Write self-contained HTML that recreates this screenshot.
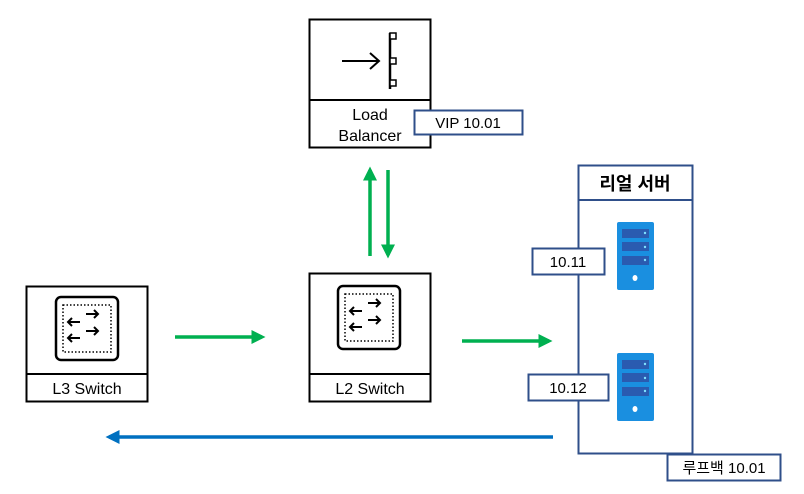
<html><body style="margin:0;width:804px;height:494px;background:#fff;position:relative;font-family:'Liberation Sans','Noto Sans CJK KR',sans-serif;overflow:hidden">
<svg width="804" height="494" style="position:absolute;left:0;top:0" font-family="Liberation Sans, Noto Sans CJK KR, sans-serif">
<defs>
<marker id="g" markerWidth="4" markerHeight="4" refX="3" refY="2" orient="auto" markerUnits="strokeWidth"><path d="M0,0L4,2L0,4z" fill="#00b050"/></marker>
<marker id="b" markerWidth="4" markerHeight="4" refX="3" refY="2" orient="auto" markerUnits="strokeWidth"><path d="M0,0L4,2L0,4z" fill="#0070c0"/></marker>
</defs>
<!-- LB -->
<rect x="309.5" y="19.5" width="121" height="128" fill="#fff" stroke="#000" stroke-width="2"/>
<line x1="309" y1="100" x2="431" y2="100" stroke="#000" stroke-width="2"/>
<line x1="342" y1="61" x2="378" y2="61" stroke="#000" stroke-width="2"/>
<path d="M370,53L379,61L370,69" fill="none" stroke="#000" stroke-width="2"/>
<line x1="390" y1="33" x2="390" y2="89" stroke="#000" stroke-width="2.5"/>
<rect x="390" y="33" width="6" height="6" fill="#fff" stroke="#000" stroke-width="1.5"/>
<rect x="390" y="58" width="6" height="6" fill="#fff" stroke="#000" stroke-width="1.5"/>
<rect x="390" y="80" width="6" height="6" fill="#fff" stroke="#000" stroke-width="1.5"/>
<text x="370" y="120" font-size="16" text-anchor="middle">Load</text>
<text x="370" y="141" font-size="16" text-anchor="middle">Balancer</text>
<rect x="414.5" y="110.5" width="108" height="24" fill="#fff" stroke="#2f4f8a" stroke-width="2"/>
<text x="468" y="128" font-size="15" text-anchor="middle">VIP 10.01</text>
<!-- real server -->
<rect x="578.5" y="165.5" width="114" height="288" fill="#fff" stroke="#2f4f8a" stroke-width="2"/>
<line x1="578" y1="200" x2="693" y2="200" stroke="#2f4f8a" stroke-width="2"/>
<text x="635" y="190" font-size="18" font-weight="bold" text-anchor="middle">리얼 서버</text>
<g id="sv">
<rect x="617" y="222" width="37" height="68" rx="2" fill="#1a8fe0"/>
<rect x="622" y="229" width="27" height="9" fill="#2a5bb0"/>
<rect x="622" y="242" width="27" height="9" fill="#2a5bb0"/>
<rect x="622" y="256" width="27" height="9" fill="#2a5bb0"/>
<circle cx="645" cy="233" r="1.2" fill="#7fe0ff"/><circle cx="645" cy="247" r="1.2" fill="#7fe0ff"/><circle cx="645" cy="260" r="1.2" fill="#7fe0ff"/>
<ellipse cx="635" cy="278" rx="2.5" ry="3" fill="#fff"/>
</g>
<use href="#sv" y="131"/>
<rect x="532.5" y="248.5" width="72" height="26" fill="#fff" stroke="#2f4f8a" stroke-width="2"/>
<text x="568" y="267" font-size="15" text-anchor="middle">10.11</text>
<rect x="528.5" y="374.5" width="80" height="26" fill="#fff" stroke="#2f4f8a" stroke-width="2"/>
<text x="568" y="393" font-size="15" text-anchor="middle">10.12</text>
<rect x="667.5" y="454.5" width="113" height="26" fill="#fff" stroke="#2f4f8a" stroke-width="2"/>
<text x="724" y="473" font-size="15" text-anchor="middle">루프백 10.01</text>
<!-- switches -->
<g id="sw">
<rect x="26.5" y="286.5" width="121" height="115" fill="#fff" stroke="#000" stroke-width="2"/>
<line x1="26" y1="374" x2="148" y2="374" stroke="#000" stroke-width="2"/>
<rect x="56" y="297" width="62" height="63" rx="5" fill="none" stroke="#000" stroke-width="2.5"/>
<rect x="63" y="305" width="48" height="47" fill="none" stroke="#000" stroke-width="1.5" stroke-dasharray="1.5 2"/>
<g fill="none" stroke="#000" stroke-width="2">
<path d="M68,322H80M72,318L68,322L72,326"/><path d="M68,338H80M72,334L68,338L72,342"/>
<path d="M86,314H98M94,310L98,314L94,318"/><path d="M86,331H98M94,327L98,331L94,335"/>
</g>
</g>
<text x="87" y="394" font-size="16" text-anchor="middle">L3 Switch</text>
<rect x="309.5" y="273.5" width="121" height="128" fill="#fff" stroke="#000" stroke-width="2"/>
<line x1="309" y1="374" x2="431" y2="374" stroke="#000" stroke-width="2"/>
<g transform="translate(282,-11)">
<rect x="56" y="297" width="62" height="63" rx="5" fill="none" stroke="#000" stroke-width="2.5"/>
<rect x="63" y="305" width="48" height="47" fill="none" stroke="#000" stroke-width="1.5" stroke-dasharray="1.5 2"/>
<g fill="none" stroke="#000" stroke-width="2">
<path d="M68,322H80M72,318L68,322L72,326"/><path d="M68,338H80M72,334L68,338L72,342"/>
<path d="M86,314H98M94,310L98,314L94,318"/><path d="M86,331H98M94,327L98,331L94,335"/>
</g></g>
<text x="370" y="394" font-size="16" text-anchor="middle">L2 Switch</text>
<!-- arrows -->
<g stroke-width="3.5" fill="none">
<line x1="175" y1="337" x2="262" y2="337" stroke="#00b050" marker-end="url(#g)"/>
<line x1="462" y1="341" x2="549" y2="341" stroke="#00b050" marker-end="url(#g)"/>
<line x1="370" y1="256" x2="370" y2="170" stroke="#00b050" marker-end="url(#g)"/>
<line x1="388" y1="170" x2="388" y2="255" stroke="#00b050" marker-end="url(#g)"/>
<line x1="553" y1="437" x2="109" y2="437" stroke="#0070c0" marker-end="url(#b)"/>
</g>
</svg>
</body></html>
